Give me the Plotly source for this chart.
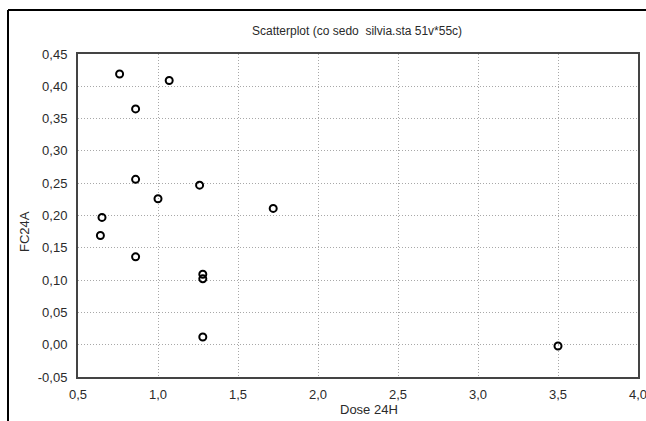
import plotly.graph_objects as go

# Data
dose_24h = [0.76, 1.07, 0.86, 0.86, 1.26, 1.00, 1.72, 0.65, 0.64, 0.86, 1.28, 1.28, 1.28, 3.50]
fc24a = [0.419, 0.409, 0.365, 0.256, 0.247, 0.226, 0.211, 0.197, 0.169, 0.136, 0.109, 0.102, 0.012, -0.002]

x_ticks = [0.5, 1.0, 1.5, 2.0, 2.5, 3.0, 3.5, 4.0]
x_tick_labels = ["0,5", "1,0", "1,5", "2,0", "2,5", "3,0", "3,5", "4,0"]
y_ticks = [-0.05, 0.0, 0.05, 0.10, 0.15, 0.20, 0.25, 0.30, 0.35, 0.40, 0.45]
y_tick_labels = ["-0,05", "0,00", "0,05", "0,10", "0,15", "0,20", "0,25", "0,30", "0,35", "0,40", "0,45"]

FONT = "Liberation Sans, Arial, sans-serif"
TXT = "#2a2a2a"
GRID = "#a8a8a8"
DOTS = "1px,2px"

fig = go.Figure()
fig.add_trace(go.Scatter(
    x=dose_24h, y=fc24a, mode="markers",
    marker=dict(symbol="circle-open", size=7, color="black", line=dict(width=2, color="black")),
    showlegend=False, hoverinfo="x+y",
))

W, H = 646, 421
L, R, T, B = 78, 8, 54, 44

fig.update_layout(
    width=W, height=H,
    margin=dict(l=L, r=R, t=T, b=B, autoexpand=False),
    paper_bgcolor="white", plot_bgcolor="white",
    font=dict(family=FONT, size=13, color=TXT),
    xaxis=dict(
        range=[0.5, 4.0], tickvals=x_ticks, ticktext=x_tick_labels,
        showgrid=True, gridcolor=GRID, griddash=DOTS, gridwidth=1,
        showline=True, linecolor="#444444", linewidth=2, mirror=True,
        zeroline=False, ticks="", ticklabelstandoff=4, automargin=False,
        ticklabeloverflow="allow",
        tickfont=dict(size=13, color=TXT),
    ),
    yaxis=dict(
        range=[-0.05, 0.45], tickvals=y_ticks, ticktext=y_tick_labels,
        showgrid=True, gridcolor=GRID, griddash=DOTS, gridwidth=1,
        showline=True, linecolor="#444444", linewidth=2, mirror=True,
        zeroline=False, ticks="", ticklabelstandoff=6, automargin=False,
        ticklabeloverflow="allow",
        tickfont=dict(size=13, color=TXT),
    ),
    shapes=[
        dict(type="line", xref="paper", yref="paper",
             x0=-(L - 8) / (W - L - R), x1=(W - L) / (W - L - R),
             y0=(H - B - 10) / (H - T - B), y1=(H - B - 10) / (H - T - B),
             line=dict(color="black", width=2)),
        dict(type="line", xref="paper", yref="paper",
             x0=-(L - 8) / (W - L - R), x1=-(L - 8) / (W - L - R),
             y0=(H - B - 10) / (H - T - B), y1=-B / (H - T - B),
             line=dict(color="black", width=2)),
    ],
    annotations=[
        dict(text="Scatterplot (co sedo  silvia.sta 51v*55c)", xref="paper", yref="paper",
             x=(357 - L) / (W - L - R), y=(H - B - 31) / (H - T - B),
             xanchor="center", yanchor="middle", showarrow=False,
             font=dict(size=12, color=TXT, family=FONT)),
        dict(text="Dose 24H", xref="paper", yref="paper",
             x=(369 - L) / (W - L - R), y=(H - B - 409) / (H - T - B),
             xanchor="center", yanchor="middle", showarrow=False,
             font=dict(size=13, color=TXT, family=FONT)),
        dict(text="FC24A", xref="paper", yref="paper", textangle=-90,
             x=(25 - L) / (W - L - R), y=(H - B - 232) / (H - T - B),
             xanchor="center", yanchor="middle", showarrow=False,
             font=dict(size=13, color=TXT, family=FONT)),
    ],
)

fig.write_html(
    "out.html",
    config={"displayModeBar": False},
    post_script="document.body.style.margin='0';document.body.style.overflow='hidden';",
)
